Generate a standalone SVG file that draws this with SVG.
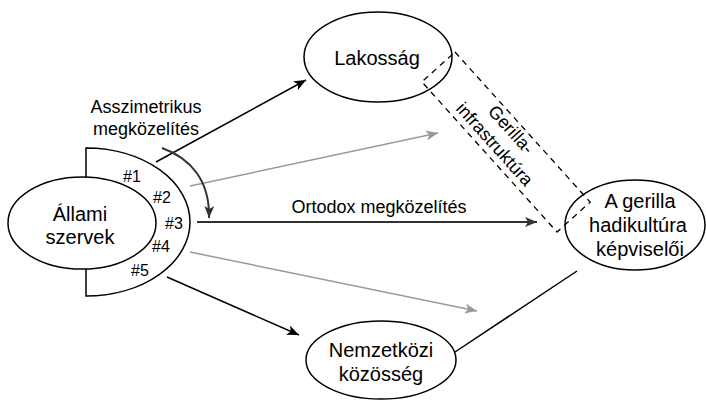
<svg xmlns="http://www.w3.org/2000/svg" width="706" height="401" viewBox="0 0 706 401">
<style>
.node{fill:#fff;stroke:#000;stroke-width:1.5}
.t{font-family:"Liberation Sans",Arial,sans-serif;fill:#000;text-anchor:middle}
.nt{font-size:20px}
.lt{font-size:18px}
.ht{font-size:16px}
.blk{stroke:#000;stroke-width:1.5;fill:none}
.gry{stroke:#999;stroke-width:1.5;fill:none}
.drk{stroke:#333;stroke-width:2;fill:none}
</style>
<defs>
<marker id="aB" viewBox="0 0 12 10" refX="12" refY="5" markerWidth="12" markerHeight="10" markerUnits="userSpaceOnUse" orient="auto"><path d="M0,0 L12,5 L0,10 L3,5 Z" fill="#000"/></marker>
<marker id="aG" viewBox="0 0 12 10" refX="12" refY="5" markerWidth="12" markerHeight="10" markerUnits="userSpaceOnUse" orient="auto"><path d="M0,0 L12,5 L0,10 L3,5 Z" fill="#999"/></marker>
<marker id="aD" viewBox="0 0 12 10" refX="12" refY="5" markerWidth="12" markerHeight="10" markerUnits="userSpaceOnUse" orient="auto"><path d="M0,0 L12,5 L0,10 L3,5 Z" fill="#333"/></marker>
</defs>
<g id="half-shape">
<path d="M86,148 A104,74 0 0 1 86,296 Z" class="node"/>
<text class="t ht" x="132" y="182">#1</text>
<text class="t ht" x="162" y="203">#2</text>
<text class="t ht" x="174" y="229">#3</text>
<text class="t ht" x="161" y="252">#4</text>
<text class="t ht" x="140" y="276">#5</text>
</g>
<g id="allami">
<ellipse cx="82" cy="223" rx="74" ry="46" class="node"/>
<text class="t nt" x="80" y="221">Állami</text>
<text class="t nt" x="80" y="244">szervek</text>
</g>
<g id="lakossag">
<ellipse cx="378" cy="57" rx="74" ry="45" class="node"/>
<text class="t nt" x="377" y="65">Lakosság</text>
</g>
<g id="nemzetkozi">
<ellipse cx="381" cy="360" rx="75" ry="39" class="node"/>
<text class="t nt" x="381" y="357">Nemzetközi</text>
<text class="t nt" x="381" y="381">közösség</text>
</g>
<g id="gerilla">
<ellipse cx="635" cy="225" rx="70" ry="45" class="node"/>
<text class="t nt" x="640" y="208">A gerilla</text>
<text class="t nt" x="638" y="232">hadikultúra</text>
<text class="t nt" x="640" y="256">képviselői</text>
</g>
<g id="connectors">
<line x1="156" y1="162" x2="306" y2="80" class="blk" marker-end="url(#aB)"/>
<line x1="167" y1="277" x2="299" y2="335" class="blk" marker-end="url(#aB)"/>
<line x1="190" y1="186" x2="438" y2="133" class="gry" marker-end="url(#aG)"/>
<line x1="190" y1="252" x2="477" y2="311" class="gry" marker-end="url(#aG)"/>
<line x1="197" y1="222" x2="537" y2="222" class="drk" marker-end="url(#aD)"/>
<path d="M162,148 C190,158 210,180 209,218" class="drk" marker-end="url(#aD)"/>
<line x1="455" y1="352" x2="577" y2="271" class="blk"/>
<text class="t lt" x="146" y="113">Asszimetrikus</text>
<text class="t lt" x="146" y="135">megközelítés</text>
<text class="t lt" x="379" y="213">Ortodox megközelítés</text>
</g>
<g id="gerilla-infrastruktura" transform="translate(506,142) rotate(48)">
<rect x="-101" y="-22.3" width="202" height="44.6" fill="none" stroke="#000" stroke-width="1.3" stroke-dasharray="6,5"/>
<text class="t lt" x="-6" y="-6">Gerilla-</text>
<text class="t lt" x="-6" y="16">infrastruktúra</text>
</g>
</svg>
